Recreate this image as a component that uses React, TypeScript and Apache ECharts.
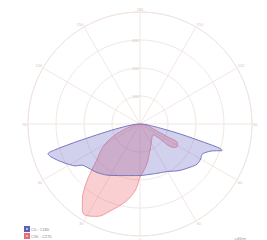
import React, { useEffect, useRef } from "react";
import * as echarts from "echarts";

// Photometric gamma angle (negative = left half / C180 or C270, positive = right half)
const gammaBlue = [-90, -85, -80, -77, -75, -74, -73, -72, -70, -67, -65, -62, -60, -57, -55, -50, -45, -40, -30, -25, -20, -10, 0, 10, 20, 30, 40, 50, 55, 60, 64, 67, 70, 72, 73, 74, 76, 78, 80, 85, 90];
const valuesBlue = [0, 20, 60, 120, 200, 260, 320, 345, 340, 325, 315, 300, 290, 275, 256, 243, 236, 229, 212, 203, 196, 187, 184, 183, 187, 196, 217, 238, 249, 250, 247, 258, 280, 308, 300, 240, 150, 85, 50, 18, 0];

const gammaRed = [-90, -80, -75, -72, -65, -58, -50, -45, -41, -37, -34, -32, -30, -25, -19, -10, -5, -3, 0, 2, 5, 10, 15, 21, 30, 40, 45, 50, 53, 56, 60, 63, 65, 67, 70, 75, 81, 90];
const valuesRed = [0, 15, 30, 51, 107, 156, 203, 254, 301, 342, 368, 379, 378, 364, 329, 279, 245, 227, 190, 180, 165, 144, 120, 100, 80, 66, 62, 60, 75, 150, 155, 150, 110, 72, 50, 35, 20, 0];

const seriesNames = ["C0 - C180", "C90 - C270"];
const radiusTicks = [0, 100, 200, 300, 400];
const unitLabel = "cd/klm";

const gridColor = "#efe4df";
const labelColor = "#cfc4bf";

export default function App() {
  const ref = useRef<HTMLDivElement>(null);

  useEffect(() => {
    if (!ref.current) return;
    const chart = echarts.init(ref.current, null, { renderer: "svg" });
    const toPolar = (g: number[], v: number[]) => g.map((a, i) => [v[i], 180 + a]);
    chart.setOption({
      animation: false,
      textStyle: { fontFamily: "Liberation Sans, DejaVu Sans, sans-serif" },
      title: {
        text: unitLabel,
        right: 16,
        top: 231,
        textStyle: { fontSize: 4, color: "#999", fontWeight: "normal" },
      },
      legend: {
        data: seriesNames,
        orient: "vertical",
        left: 24,
        top: 226,
        itemWidth: 4,
        itemHeight: 4,
        itemGap: 1,
        icon: "rect",
        textStyle: { fontSize: 4, color: "#888", padding: [0, 0, 0, -3] },
        padding: 0,
      },
      polar: { center: [140, 124], radius: 112 },
      angleAxis: {
        type: "value",
        min: 0,
        max: 360,
        interval: 30,
        startAngle: 90,
        clockwise: false,
        axisLine: { lineStyle: { color: gridColor, width: 0.9 } },
        axisTick: { show: false },
        axisLabel: {
          fontSize: 4,
          color: labelColor,
          margin: 1,
          formatter: (v: number) => String(Math.abs(180 - v)),
        },
        splitLine: { show: true, lineStyle: { color: gridColor, width: 0.9 } },
      },
      radiusAxis: {
        type: "value",
        min: radiusTicks[0],
        max: radiusTicks[radiusTicks.length - 1],
        interval: 100,
        axisLine: { show: false },
        axisTick: { show: false },
        axisLabel: { fontSize: 4, color: labelColor, margin: 1, showMaxLabel: false, showMinLabel: false },
        splitLine: { show: true, lineStyle: { color: gridColor, width: 0.9 } },
      },
      series: [
        {
          name: seriesNames[1],
          type: "line",
          coordinateSystem: "polar",
          data: toPolar(gammaRed, valuesRed),
          smooth: 0.4,
          symbol: "none",
          lineStyle: { color: "#eb8c92", width: 0.8 },
          itemStyle: { color: "#f4b0b2", borderColor: "#e07078", borderWidth: 1 },
          areaStyle: { color: "rgba(236, 100, 108, 0.44)" },
          z: 2,
        },
        {
          name: seriesNames[0],
          type: "line",
          coordinateSystem: "polar",
          data: toPolar(gammaBlue, valuesBlue),
          smooth: 0.4,
          symbol: "none",
          lineStyle: { color: "#7676c0", width: 1 },
          itemStyle: { color: "#b4b6e2", borderColor: "#6060b8", borderWidth: 1 },
          areaStyle: { color: "rgba(84, 84, 192, 0.38)" },
          z: 3,
        },
      ],
    });
    return () => chart.dispose();
  }, []);

  return (
    <div
      ref={ref}
      style={{ position: "fixed", left: 0, top: 0, width: 267, height: 240, background: "#fff" }}
    />
  );
}
